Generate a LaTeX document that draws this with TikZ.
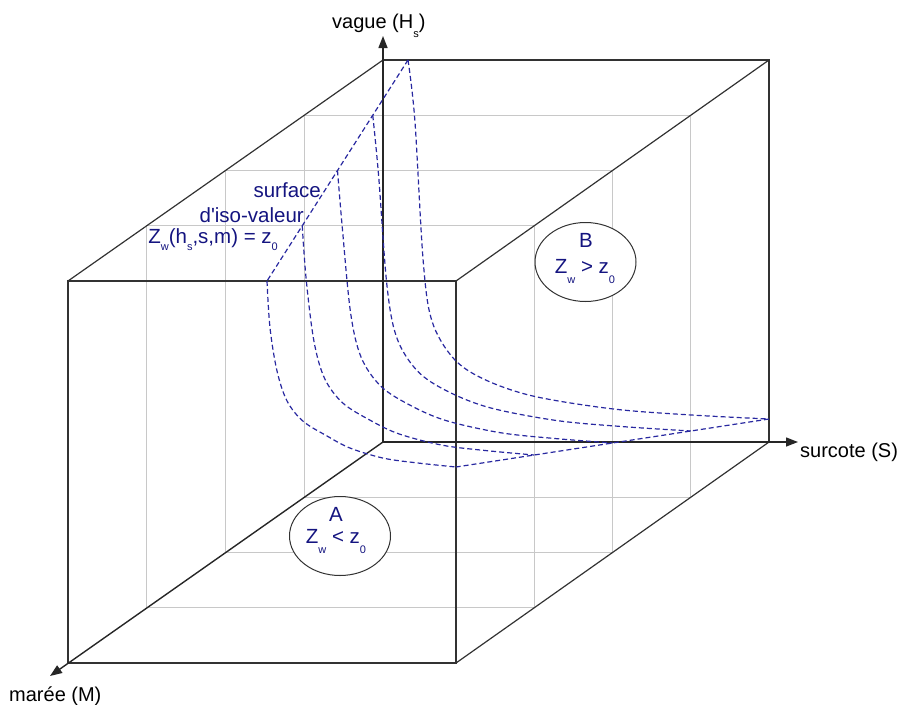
\documentclass[tikz,border=0pt]{standalone}
\usepackage{fontspec}
\setmainfont{Liberation Sans}
\usetikzlibrary{arrows.meta,shapes.geometric}
\definecolor{edgec}{RGB}{50,50,50}
\definecolor{gridc}{RGB}{200,200,200}
\definecolor{isoc}{RGB}{40,40,160}
\definecolor{txtc}{RGB}{20,20,128}
\newcommand\lowsub[2][9]{\raisebox{-#1pt}{\fontsize{11}{11}\selectfont #2}}
\begin{document}
\begin{tikzpicture}[x=1pt,y=-1pt,
  edge/.style={draw=edgec, line width=1.2pt},
  gridl/.style={draw=gridc, line width=0.9pt},
  axis/.style={draw=black!85, line width=1.4pt, -{Triangle[length=12pt,width=9pt]}},
  iso/.style={draw=isoc, line width=1.2pt, dash pattern=on 5pt off 3pt},
  lbl/.style={font=\fontsize{20}{22}\selectfont, inner sep=0, anchor=base west},
  blu/.style={font=\fontsize{20.5}{22}\selectfont, inner sep=0, anchor=base east, text=txtc},
  ovtxt/.style={font=\fontsize{20.5}{22}\selectfont, inner sep=0, text=txtc},
  oval/.style={ellipse, draw=edgec, line width=1pt, fill=white, minimum width=101pt, minimum height=79pt, inner sep=0}]
\useasboundingbox (0,0) rectangle (901,704);

% cube corners
\coordinate (O) at (383,442);
\coordinate (bTL) at (383,60);
\coordinate (bTR) at (769,60);
\coordinate (bBR) at (769,442);
\coordinate (fTL) at (68,281);
\coordinate (fTR) at (456,281);
\coordinate (fBR) at (456,663);
\coordinate (fBL) at (68,663);
\coordinate (Htip) at (383,36);
\coordinate (Stip) at (798,442);
\coordinate (Mtip) at (50,676);

% grid slices
\foreach \f [count=\k] in {0.25,0.5,0.75}{
  \coordinate (g\k a) at ({383-315*\f},{60+221*\f});
  \coordinate (g\k b) at ({769-313*\f},{442+221*\f});
  \draw[gridl] (g\k a) rectangle (g\k b);
}

% edges
\draw[edge] (bTL) -- (bTR) -- (bBR);
\draw[edge] (fTL) rectangle (fBR);
\draw[edge] (bTL) -- (fTL);
\draw[edge] (bTR) -- (fTR);
\draw[edge] (bBR) -- (fBR);

% axes
\draw[axis] (O) -- (Htip);
\draw[axis] (O) -- (Stip);
\draw[axis] (O) -- (Mtip);

% iso-value surface
\foreach \f [count=\k] in {0,0.25,0.5,0.75,1}{
  \pgfmathsetmacro\ox{383-315*\f}
  \pgfmathsetmacro\oy{442+221*\f}
  \pgfmathsetmacro\sa{25+174*\f}
  \pgfmathsetmacro\sbb{23+173*\f}
  \pgfmathsetmacro\sw{386+2*\f}
  \foreach \i/\ub/\gb/\uf/\gf in {0/0/1/0/1, 1/0.019/0.832/0.016/0.747, 2/0.042/0.441/0.053/0.516,
      3/0.066/0.274/0.106/0.355, 4/0.125/0.170/0.19/0.247, 5/0.208/0.112/0.317/0.167,
      6/0.346/0.064/0.439/0.102, 7/0.568/0.028/0.614/0.048, 8/0.787/0.011/0.794/0.022, 9/1/0/1/0}{
    \pgfmathsetmacro\cu{\ub+\f*(\uf-\ub)}
    \pgfmathsetmacro\cg{\gb+\f*(\gf-\gb)}
    \coordinate (q\k-\i) at ({\ox+\sa+\cu*(\sw-\sa)},{\oy-\sbb-\cg*(382-\sbb)});
  }
  \draw[iso] plot[smooth, tension=0.55] coordinates {(q\k-0) (q\k-1) (q\k-2) (q\k-3) (q\k-4) (q\k-5) (q\k-6) (q\k-7) (q\k-8) (q\k-9)};
}
\draw[iso] (q1-0) -- (q5-0);
\draw[iso] (q1-9) -- (q5-9);

% regions
\node[oval] (ellA) at (340,536) {};
\node[oval] (ellB) at (585.5,262) {};
\node[ovtxt, anchor=base] (tA) at (336,521) {A};
\node[ovtxt, anchor=base] (tAz) at (336,543) {Z\lowsub[10]{w} {<} z\lowsub[10]{0}};
\node[ovtxt, anchor=base] (tB) at (586,247) {B};
\node[ovtxt, anchor=base] (tBz) at (585,273) {Z\lowsub[10]{w} {>} z\lowsub[10]{0}};

% labels
\node[lbl] (lH) at (332,28) {vague (H\lowsub{s})};
\node[lbl] (lS) at (800,457) {surcote (S)};
\node[lbl] (lM) at (9,701) {marée (M)};
\node[blu] (s1) at (321,197) {surface};
\node[blu] (s2) at (304,222) {d\textquotesingle iso-valeur};
\node[blu] (s3) at (278,243) {Z\lowsub[7]{w}(h\lowsub[7]{s},s,m) = z\lowsub[7]{0}};
\end{tikzpicture}
\end{document}
